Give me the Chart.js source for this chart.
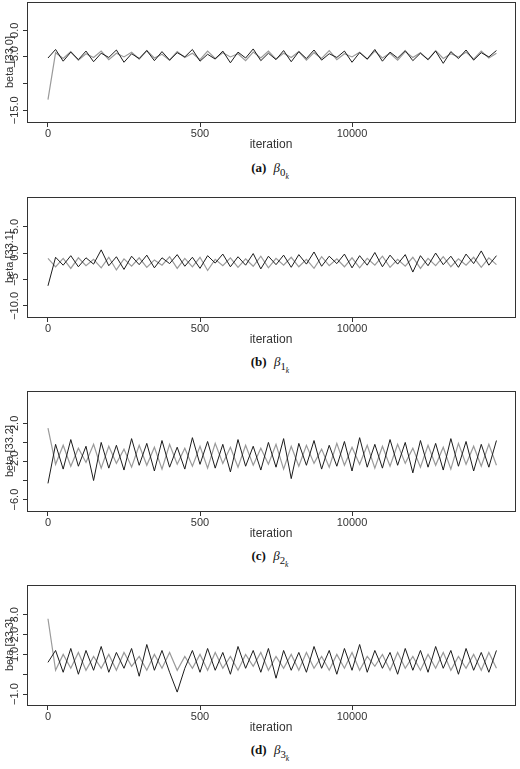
<!DOCTYPE html>
<html>
<head>
<meta charset="utf-8">
<script src="https://cdn.jsdelivr.net/npm/chart.js@4/dist/chart.umd.min.js"></script>
<style>
  body { margin: 0; background: #fff; width: 520px; height: 769px; position: relative; overflow: hidden; }
  .panel { position: absolute; left: 0; width: 520px; height: 152px; }
  .cap { position: absolute; left: 0; width: 540px; text-align: center; font-family: "Liberation Serif", serif; font-size: 13px; color: #111; }
  .cap b { margin-right: 4px; }
  .cap i, .cap sub { color: #111; }
  sub sub { font-size: 70%; }
</style>
</head>
<body>
<div class="panel" style="top:0"><canvas id="c0" width="520" height="152"></canvas></div>
<div class="cap" style="top:160px"><b>(a)</b> <i>β</i><sub>0<sub><i>k</i></sub></sub></div>
<div class="panel" style="top:195px"><canvas id="c1" width="520" height="152"></canvas></div>
<div class="cap" style="top:354px"><b>(b)</b> <i>β</i><sub>1<sub><i>k</i></sub></sub></div>
<div class="panel" style="top:389px"><canvas id="c2" width="520" height="152"></canvas></div>
<div class="cap" style="top:548px"><b>(c)</b> <i>β</i><sub>2<sub><i>k</i></sub></sub></div>
<div class="panel" style="top:583px"><canvas id="c3" width="520" height="152"></canvas></div>
<div class="cap" style="top:742px"><b>(d)</b> <i>β</i><sub>3<sub><i>k</i></sub></sub></div>
<script>
// iteration spacing between stored samples
var step = 50;
var xTickValues = [0, 1000, 2000];
var xTickLabels = ["0", "500", "10000"];

var aBlack = [-5.2,-3.6,-5.8,-4.1,-5.5,-3.9,-5.9,-4.3,-5.1,-3.7,-6.0,-4.4,-5.3,-3.8,-5.7,-4.0,-5.6,-4.2,-5.0,-3.6,-5.8,-4.5,-5.4,-3.9,-6.1,-4.1,-5.2,-3.5,-5.7,-4.3,-5.5,-3.8,-5.9,-4.0,-5.3,-3.7,-5.6,-4.4,-5.1,-3.9,-6.0,-4.2,-5.4,-3.6,-5.8,-4.1,-5.2,-3.8,-5.7,-4.3,-5.5,-3.9,-6.2,-4.0,-5.3,-3.7,-5.6,-4.2,-5.0,-3.8];
var aGrey = [-13.0,-4.2,-5.3,-4.0,-5.6,-4.4,-5.1,-3.9,-5.5,-4.3,-5.0,-4.1,-5.4,-3.8,-5.2,-4.5,-5.6,-4.0,-5.1,-4.3,-5.5,-3.9,-5.3,-4.2,-5.0,-4.4,-5.7,-4.1,-5.2,-3.9,-5.4,-4.3,-5.1,-4.0,-5.6,-4.2,-5.3,-3.8,-5.5,-4.4,-5.0,-4.1,-5.4,-3.9,-5.2,-4.3,-5.6,-4.0,-5.1,-4.2,-5.5,-3.8,-5.3,-4.4,-5.0,-4.1,-5.4,-3.9,-5.2,-4.3];
var aTicks = [0, -5, -10, -15];
var aTickLabels = ["0.0", "-5.0", "", "-15.0"];

var bBlack = [-6.2,-0.8,-2.3,-0.5,-2.6,-0.9,-2.1,0.6,-2.4,-0.7,-3.1,-0.6,-2.2,-0.4,-2.8,-0.9,-2.0,-0.3,-2.5,-0.8,-2.9,-0.5,-1.9,-0.2,-2.6,-0.7,-2.3,-0.1,-3.0,-0.6,-2.2,-0.4,-2.7,-0.3,-2.1,0.2,-2.5,-0.6,-2.0,-0.2,-2.8,-0.5,-2.3,0.1,-2.6,-0.4,-2.1,-0.3,-3.6,-0.5,-2.4,0.0,-2.2,-0.6,-2.7,-0.2,-2.0,0.4,-2.3,-0.5];
var bGrey = [-1.0,-2.6,-1.0,-2.9,-0.9,-2.4,-1.2,-2.8,-0.8,-3.2,-1.1,-2.5,-0.9,-2.7,-1.3,-2.3,-0.7,-2.9,-1.0,-2.6,-0.8,-3.3,-1.2,-2.4,-0.9,-2.7,-1.1,-2.5,-0.6,-2.8,-1.0,-2.3,-0.8,-2.6,-1.2,-2.9,-0.7,-2.4,-1.1,-2.6,-0.9,-2.8,-1.0,-2.3,-0.6,-2.7,-1.2,-2.5,-0.8,-2.9,-1.0,-2.4,-0.7,-2.6,-1.1,-2.3,-0.8,-2.7,-0.9,-2.2];
var bTicks = [5, 0, -5, -10];
var bTickLabels = ["5.0", "0.0", "-5", "-10.0"];

var cBlack = [-4.3,-0.2,-2.8,0.3,-2.5,-0.4,-4.0,0.0,-2.7,-0.3,-2.9,0.4,-2.4,-0.1,-3.0,0.2,-2.6,-0.5,-2.8,0.5,-2.3,0.1,-2.7,-0.2,-3.1,0.3,-2.5,-0.4,-2.9,0.0,-2.6,0.4,-3.8,-0.1,-2.4,0.2,-2.8,-0.3,-2.5,0.1,-3.0,0.5,-2.6,-0.2,-2.7,0.3,-2.4,0.0,-3.2,0.2,-2.6,-0.1,-2.9,0.4,-2.5,0.1,-3.0,-0.2,-2.6,0.2];
var cGrey = [1.5,-2.3,-0.3,-2.5,-0.6,-2.1,-0.2,-2.7,-0.4,-2.2,-0.7,-2.6,-0.3,-2.4,-0.5,-2.8,-0.2,-2.3,-0.6,-2.5,-0.4,-2.7,-0.1,-2.2,-0.5,-2.6,-0.3,-2.4,-0.6,-2.3,-0.2,-2.8,-0.4,-2.5,-0.3,-2.2,-0.7,-2.6,-0.1,-2.4,-0.5,-2.3,-0.3,-2.7,-0.4,-2.5,-0.2,-2.2,-0.6,-2.6,-0.3,-2.4,-0.5,-2.8,-0.1,-2.3,-0.4,-2.5,-0.2,-2.4];
var cTicks = [2, 0, -2, -4, -6];
var cTickLabels = ["2.0", "", "-2.0", "", "-6.0"];

var dBlack = [0.6,1.2,0.1,1.3,0.0,1.2,0.2,1.4,0.1,1.1,0.3,1.3,-0.1,1.5,0.2,1.2,0.1,-0.9,0.3,1.2,0.1,1.3,0.2,1.1,0.0,1.4,0.3,1.2,0.1,1.3,-0.2,1.2,0.2,1.1,0.1,1.4,0.3,1.2,0.0,1.3,0.2,1.5,0.1,1.2,0.3,1.1,0.0,1.3,0.2,1.2,0.1,1.4,0.3,1.2,0.0,1.3,0.2,1.1,0.1,1.2];
var dGrey = [2.8,0.2,1.0,0.3,1.1,0.2,0.9,0.3,1.0,0.2,1.1,0.4,0.9,0.2,1.0,0.3,1.1,0.2,0.9,0.3,1.0,0.2,1.1,0.3,0.9,0.2,1.0,0.4,1.1,0.2,0.9,0.3,1.0,0.2,1.1,0.3,0.9,0.2,1.0,0.3,1.1,0.2,0.9,0.4,1.0,0.2,1.1,0.3,0.9,0.2,1.0,0.3,1.1,0.2,0.9,0.3,1.0,0.2,1.1,0.3];
var dTicks = [3, 2, 1, 0, -1];
var dTickLabels = ["3.0", "2.0", "1.0", "", "-1.0"];

var panels = [
  { id: "c0", title: "beta [33.0]", black: aBlack, grey: aGrey, ticks: aTicks, labels: aTickLabels, min: -17.2, max: 5.3 },
  { id: "c1", title: "beta [33.1]", black: bBlack, grey: bGrey, ticks: bTicks, labels: bTickLabels, min: -12.1, max: 10.6 },
  { id: "c2", title: "beta [33.2]", black: cBlack, grey: cGrey, ticks: cTicks, labels: cTickLabels, min: -7.2, max: 5.4 },
  { id: "c3", title: "beta [33.3]", black: dBlack, grey: dGrey, ticks: dTicks, labels: dTickLabels, min: -1.55, max: 4.5 },
];

function toPoints(arr) {
  return arr.map(function (v, i) { return { x: i * step, y: v }; });
}

// box around plot area + rotated y labels like R
var rFrame = {
  id: "rFrame",
  afterDraw: function (chart, args, opts) {
    var ctx = chart.ctx;
    var a = chart.chartArea;
    var y = chart.scales.y;
    ctx.save();
    ctx.strokeStyle = "#333";
    ctx.lineWidth = 1;
    ctx.strokeRect(a.left + 0.5, a.top + 0.5, a.right - a.left, a.bottom - a.top);
    ctx.fillStyle = "#333";
    ctx.font = "11px 'Liberation Sans', sans-serif";
    ctx.textAlign = "center";
    ctx.textBaseline = "bottom";
    opts.ticks.forEach(function (v, i) {
      if (!opts.labels[i]) return;
      ctx.save();
      ctx.translate(a.left - 7, y.getPixelForValue(v));
      ctx.rotate(-Math.PI / 2);
      ctx.fillText(opts.labels[i].replace("-", "\u2212"), 0, 0);
      ctx.restore();
    });
    ctx.save();
    ctx.translate(15, (a.top + a.bottom) / 2);
    ctx.rotate(-Math.PI / 2);
    ctx.fillText(opts.title, 0, 0);
    ctx.restore();
    ctx.restore();
  },
};

panels.forEach(function (p) {
  new Chart(document.getElementById(p.id), {
    type: "line",
    data: {
      datasets: [
        { data: toPoints(p.black), borderColor: "#1c1c1c", borderWidth: 1, pointRadius: 0 },
        { data: toPoints(p.grey), borderColor: "#9a9a9a", borderWidth: 1.2, pointRadius: 0 },
      ],
    },
    plugins: [rFrame],
    options: {
      responsive: false,
      animation: false,
      layout: { padding: { left: 22, right: 5, top: 2, bottom: 0 } },
      plugins: {
        legend: { display: false },
        tooltip: { enabled: false },
        rFrame: { ticks: p.ticks, labels: p.labels, title: p.title },
      },
      scales: {
        x: {
          type: "linear",
          min: -138,
          max: 3072,
          afterBuildTicks: function (s) { s.ticks = xTickValues.map(function (v) { return { value: v }; }); },
          afterFit: function (s) { s.height = 30; },
          ticks: {
            autoSkip: false,
            maxRotation: 0,
            padding: 0,
            color: "#333",
            font: { family: "'Liberation Sans', sans-serif", size: 11 },
            callback: function (v, i) { return xTickLabels[i]; },
          },
          grid: { drawOnChartArea: false, tickLength: 5, color: "#333" },
          border: { display: false },
          title: { display: true, text: "iteration", color: "#333", padding: 0, font: { family: "'Liberation Sans', sans-serif", size: 12 } },
        },
        y: {
          min: p.min,
          max: p.max,
          afterBuildTicks: function (s) { s.ticks = p.ticks.map(function (v) { return { value: v }; }); },
          afterFit: function (s) { s.width = 5; },
          ticks: { display: false },
          grid: { drawOnChartArea: false, tickLength: 4, color: "#333" },
          border: { display: false },
        },
      },
    },
  });
});
</script>
</body>
</html>
